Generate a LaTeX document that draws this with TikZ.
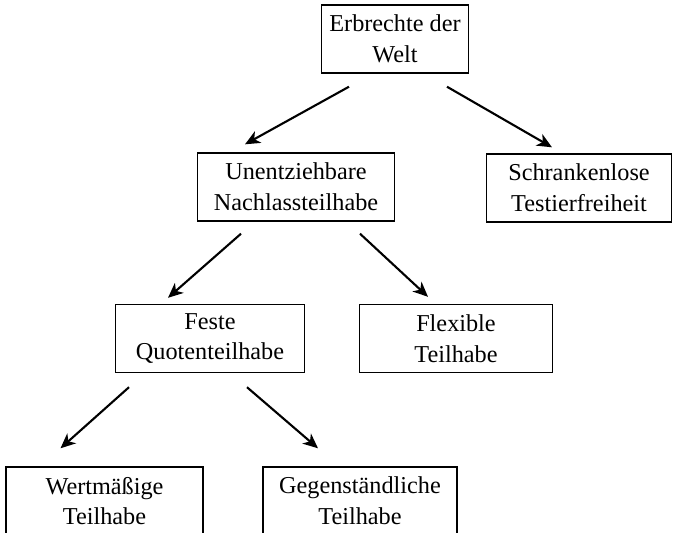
\documentclass[tikz,border=0pt]{standalone}
\usepackage{fontspec}
\setmainfont{Liberation Serif}
\usepackage{xcolor}
\usetikzlibrary{arrows.meta}

\begin{document}
\begin{tikzpicture}[
  box/.style={draw, line width=0.8pt, align=center, minimum height=1.36cm,
    inner sep=0pt, font=\fontsize{13.8}{17.5}\selectfont},
  arr/.style={-{Stealth[length=8.5pt, width=7.5pt, inset=2.5pt]}, line width=1.2pt}
]
\useasboundingbox (0,0) rectangle (13.5,-10.64);

% Boxes
\node[box, minimum width=2.94cm] (welt) at (7.9,-0.78) {Erbrechte der\\Welt};
\node[box, minimum width=3.94cm] (nachlass) at (5.92,-3.74) {Unentziehbare\\Nachlassteilhabe};
\node[box, minimum width=3.7cm] (frei) at (11.58,-3.76) {Schrankenlose\\Testierfreiheit};
\node[box, minimum width=3.78cm] (feste) at (4.2,-6.77) {Feste\\Quotenteilhabe};
\node[box, minimum width=3.86cm] (flex) at (9.12,-6.77) {Flexible\\Teilhabe};
\node[box, minimum width=3.94cm] (wert) at (2.09,-10.02) {Wertmäßige\\Teilhabe};
\node[box, minimum width=3.88cm] (gegen) at (7.2,-10.02) {Gegenständliche\\Teilhabe};

% Arrows
\draw[arr] ([shift={(-0.92,-0.26)}]welt.south) -- ([shift={(-1.02,0.16)}]nachlass.north);
\draw[arr] ([shift={(1.04,-0.26)}]welt.south) -- ([shift={(-0.54,0.12)}]frei.north);
\draw[arr] ([shift={(-1.1,-0.24)}]nachlass.south) -- ([shift={(-0.84,0.12)}]feste.north);
\draw[arr] ([shift={(1.28,-0.24)}]nachlass.south) -- ([shift={(-0.56,0.14)}]flex.north);
\draw[arr] ([shift={(-1.62,-0.28)}]feste.south) -- ([shift={(-0.88,0.36)}]wert.north);
\draw[arr] ([shift={(0.74,-0.28)}]feste.south) -- ([shift={(-0.84,0.36)}]gegen.north);
\end{tikzpicture}
\end{document}
